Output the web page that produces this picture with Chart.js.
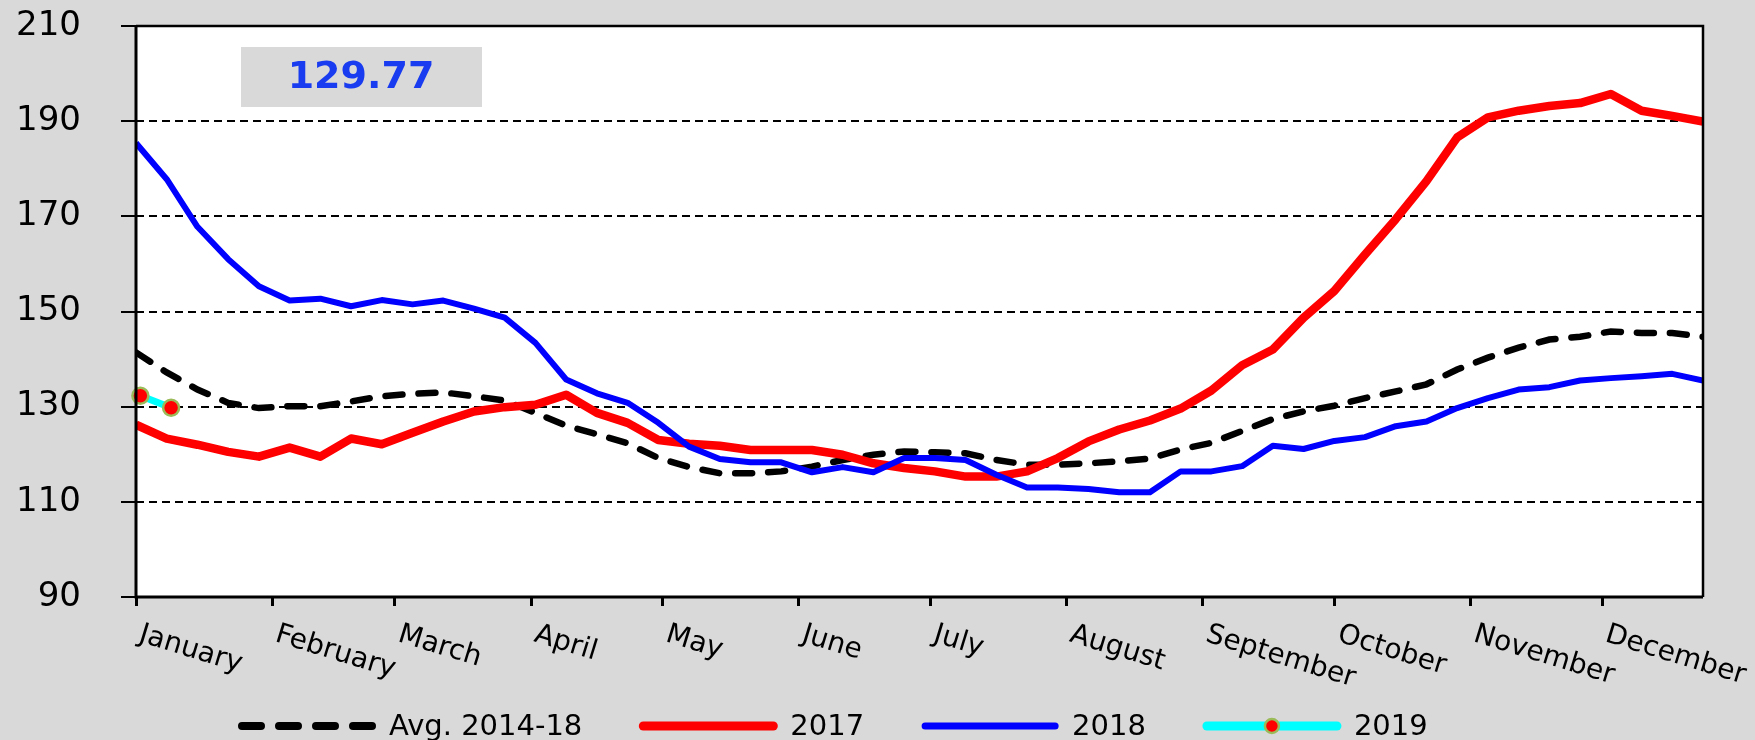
<!DOCTYPE html>
<html>
<head>
<meta charset="utf-8">
<script src="https://cdn.jsdelivr.net/npm/chart.js@4.4.1/dist/chart.umd.min.js"></script>
<style>
html,body{margin:0;padding:0;background:#d9d9d9;}
#wrap{width:1755px;height:740px;position:relative;}
</style>
</head>
<body>
<div id="wrap"><canvas id="c" width="1755" height="740"></canvas></div>
<script>
// ---- data ----
const months = ['January','February','March','April','May','June','July','August','September','October','November','December'];
const monthStartDays = [0,31,59,90,120,151,181,212,243,273,304,334];
const yTicks = [90,110,130,150,170,190,210];
const seriesLabels = ['Avg. 2014-18','2017','2018','2019'];

const avg1418 = [141.4,137.2,133.6,130.8,129.7,130.1,130.1,131.1,132.2,132.7,133.0,132.2,131.3,128.7,126.0,124.2,
  122.3,119.2,117.3,116.0,116.0,116.4,117.4,118.8,119.9,120.6,120.4,120.2,118.8,117.8,117.8,118.1,118.5,119.1,
  121.0,122.4,124.9,127.4,129.0,130.2,131.8,133.2,134.7,137.8,140.3,142.4,144.1,144.7,145.8,145.5,145.5,144.7];
const s2017 = [126.2,123.3,122.0,120.5,119.5,121.4,119.5,123.3,122.1,124.5,126.9,129.0,129.9,130.4,132.5,128.7,
  126.6,123.0,122.2,121.8,120.9,120.9,120.9,119.9,118.1,117.1,116.4,115.3,115.3,116.4,119.2,122.7,125.2,127.1,
  129.6,133.4,138.7,142.0,148.7,154.3,162.0,169.4,177.4,186.6,190.8,192.2,193.2,193.8,195.7,192.2,191.1,189.9];
const s2018 = [185.4,177.8,167.8,161.0,155.3,152.3,152.7,151.1,152.4,151.5,152.3,150.6,148.7,143.4,135.7,132.8,
  130.8,126.6,121.6,119.0,118.3,118.3,116.2,117.3,116.2,119.2,119.2,118.8,115.7,113.0,113.0,112.7,112.0,112.0,
  116.4,116.4,117.5,121.8,121.1,122.8,123.6,125.9,126.9,129.7,131.8,133.6,134.1,135.5,136.0,136.4,136.9,135.5];
const s2019 = [132.3,129.77];
const days2019 = [1,8];            // observation day-of-year for 2019
const weekStep = 7;                // weekly observations, day-of-year

const weekly = arr => arr.map((v,i)=>({x:i*weekStep, y:v}));
const pts2019 = s2019.map((v,i)=>({x:days2019[i], y:v}));

const FONT = '"DejaVu Sans", Verdana, sans-serif';

const decor = {
  id:'decor',
  beforeDraw(chart){
    const {ctx, chartArea:a} = chart;
    ctx.save();
    ctx.fillStyle = '#d9d9d9';
    ctx.fillRect(0,0,chart.width,chart.height);
    ctx.fillStyle = '#ffffff';
    ctx.fillRect(a.left,a.top,a.right-a.left,a.bottom-a.top);
    ctx.restore();
  },
  afterDatasetsDraw(chart){
    const {ctx, chartArea:a} = chart;
    ctx.save();
    ctx.strokeStyle = '#000';
    ctx.lineWidth = 2.5;
    ctx.beginPath();
    ctx.moveTo(a.left, a.top); ctx.lineTo(a.right, a.top); ctx.lineTo(a.right, a.bottom);
    ctx.stroke();
    ctx.lineWidth = 3;
    ctx.beginPath();
    ctx.moveTo(a.left, a.top); ctx.lineTo(a.left, a.bottom); ctx.lineTo(a.right, a.bottom);
    ctx.stroke();
    ctx.restore();
  },
  afterDraw(chart){
    const {ctx} = chart;
    const xs = chart.scales.x;
    // rotated month labels
    ctx.save();
    ctx.fillStyle = '#000';
    ctx.font = '28px ' + FONT;
    ctx.textAlign = 'left';
    ctx.textBaseline = 'alphabetic';
    const ang = 17*Math.PI/180;
    months.forEach((m,i)=>{
      const px = xs.getPixelForValue(monthStartDays[i]);
      ctx.save();
      ctx.translate(px + 8, 621);
      ctx.rotate(ang);
      ctx.fillText(m, 0, 21);
      ctx.restore();
    });
    ctx.restore();

    // value box
    ctx.save();
    ctx.fillStyle = '#d9d9d9';
    ctx.fillRect(241,47,241,60);
    ctx.fillStyle = '#1a3cf0';
    ctx.font = 'bold 38px ' + FONT;
    ctx.textAlign = 'center';
    ctx.textBaseline = 'middle';
    ctx.fillText(s2019[s2019.length-1].toFixed(2), 361, 78);
    ctx.restore();

    // legend
    ctx.save();
    const ly = 726;
    let x = 238;
    const lineLen = 138;
    ctx.font = '29px ' + FONT;
    ctx.textBaseline = 'middle';
    ctx.textAlign = 'left';
    chart.data.datasets.forEach((ds,i)=>{
      ctx.save();
      ctx.strokeStyle = ds.borderColor;
      ctx.lineCap = 'round';
      if (i===0){ ctx.lineWidth = 8; ctx.setLineDash([19,18]); }
      else { ctx.lineWidth = i===2 ? 7 : 9; ctx.setLineDash([]); }
      ctx.beginPath();
      ctx.moveTo(x+4, ly); ctx.lineTo(x+lineLen-4, ly);
      ctx.stroke();
      if (i===3){
        ctx.beginPath();
        ctx.arc(x+lineLen/2, ly, 7, 0, Math.PI*2);
        ctx.fillStyle = ds.pointBackgroundColor;
        ctx.fill();
        ctx.lineWidth = 2.5;
        ctx.strokeStyle = ds.pointBorderColor;
        ctx.stroke();
      }
      ctx.restore();
      ctx.fillStyle = '#000';
      const tx = x + lineLen + 13;
      ctx.fillText(ds.label, tx, ly+1);
      x = tx + ctx.measureText(ds.label).width + 57;
    });
    ctx.restore();
  }
};

new Chart(document.getElementById('c'), {
  type:'line',
  data:{
    datasets:[
      {label:seriesLabels[0], data:weekly(avg1418), borderColor:'#000000', borderWidth:6.5,
       borderDash:[17,16], borderCapStyle:'round', pointRadius:0, tension:0, order:4},
      {label:seriesLabels[1], data:weekly(s2017), borderColor:'#ff0000', borderWidth:8.5,
       pointRadius:0, tension:0, order:3, borderJoinStyle:'round'},
      {label:seriesLabels[2], data:weekly(s2018), borderColor:'#0000ff', borderWidth:6,
       pointRadius:0, tension:0, order:2, borderJoinStyle:'round'},
      {label:seriesLabels[3], data:pts2019, borderColor:'#00ffff', borderWidth:7,
       pointRadius:8, pointBackgroundColor:'#ff0000', pointBorderColor:'#9bbb59', pointBorderWidth:2.5,
       tension:0, order:1, clip:false}
    ]
  },
  options:{
    responsive:false,
    animation:false,
    events:[],
    layout:{padding:{top:26,right:52,left:0,bottom:0}},
    plugins:{legend:{display:false}, tooltip:{enabled:false}},
    scales:{
      x:{
        type:'linear', min:0, max:357,
        afterBuildTicks(s){ s.ticks = monthStartDays.map(v=>({value:v})); },
        afterFit(s){ s.height = 143; s.paddingLeft = 0; s.paddingRight = 0; },
        ticks:{display:false},
        grid:{drawOnChartArea:false, drawTicks:true, tickLength:9, tickWidth:3, tickColor:'#000', color:'#000'},
        border:{display:false}
      },
      y:{
        min:90, max:210,
        afterBuildTicks(s){ s.ticks = yTicks.map(v=>({value:v})); },
        afterFit(s){ s.width = 136; s.paddingTop = 0; s.paddingBottom = 0; },
        ticks:{color:'#000', font:{family:FONT, size:34}, padding:40},
        grid:{color:'#000', lineWidth:2, tickLength:15, tickWidth:2, tickColor:'#000', tickBorderDash:[]},
        border:{display:false, dash:[8,5]}
      }
    }
  },
  plugins:[decor]
});
</script>
</body>
</html>
